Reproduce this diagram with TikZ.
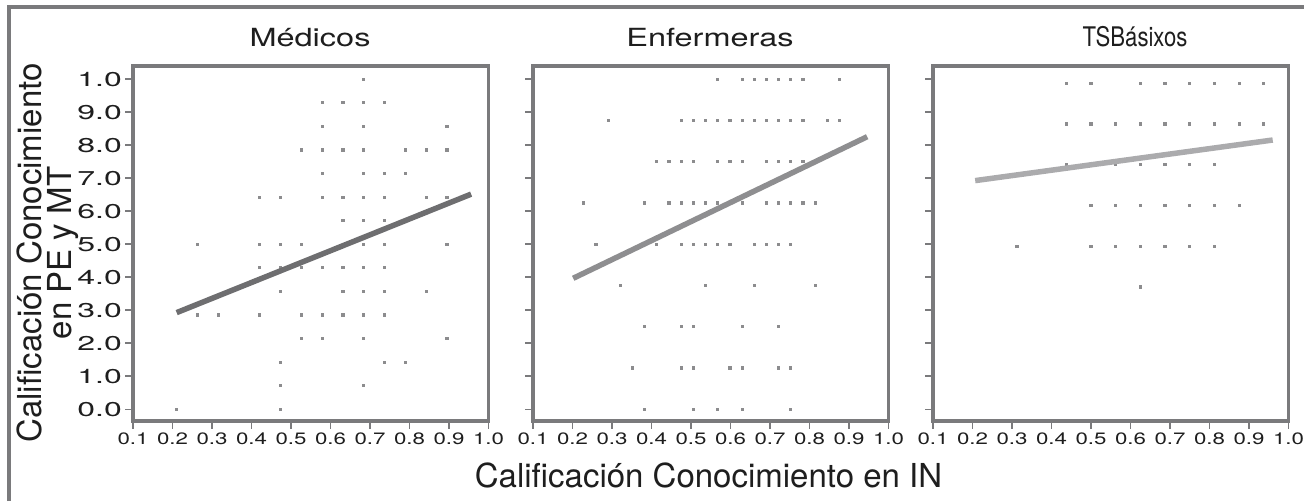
\documentclass[tikz,border=0pt]{standalone}
\usepackage{fontspec}
\setmainfont{TeX Gyre Heros}
\newfontfamily\titlefont{TeX Gyre Heros}[FakeStretch=1.3]
\newfontfamily\xtickfont{TeX Gyre Heros}[FakeStretch=1.35]
\newfontfamily\ytickfont{TeX Gyre Heros}[FakeStretch=1.6]
\definecolor{framegray}{HTML}{7A7A7C}
\definecolor{dotgray}{HTML}{8C8C8E}
\definecolor{fitA}{HTML}{6E6E70}
\definecolor{fitB}{HTML}{8E8E90}
\definecolor{fitC}{HTML}{ABABAD}
\definecolor{textgray}{HTML}{1E1E1E}
\tikzset{
    outer-frame/.style = {draw=framegray, line width=4.5pt},
    panel-frame/.style = {draw=framegray, line width=3.5pt},
    tick-mark/.style = {draw=framegray, line width=1.6pt},
    data-dot/.style = {fill=dotgray},
    fit-line/.style = {line width=5.5pt},
    panel-title/.style = {font=\titlefont\fontsize{25}{25}\selectfont, text=textgray, anchor=base, inner sep=0pt},
    xtick-label/.style = {font=\xtickfont\fontsize{16.5}{16.5}\selectfont, text=textgray, anchor=north, inner sep=0pt},
    ytick-label/.style = {font=\ytickfont\fontsize{20}{20}\selectfont, text=textgray, anchor=east, inner sep=0pt},
    axis-label/.style = {font=\fontsize{33}{30}\selectfont, text=textgray, inner sep=0pt, align=center},
}

\begin{document}
\begin{tikzpicture}[x=1pt, y=1pt]
\useasboundingbox (0,0) rectangle (1304,501);
% outer frame, only top and left edges show
\draw[outer-frame] (9,0) -- (9,494) -- (1304,494);

% panel titles
\node[panel-title] (medicos) at (310,454) {Médicos};
\node[panel-title] (enfermeras) at (710,454) {Enfermeras};
\node[panel-title, font=\fontsize{27}{27}\selectfont] (tsbasixos) at (1135,454) {\scalebox{0.82}[1]{TSBásixos}};

% axis labels
\node[axis-label, rotate=90] (ylabel) at (48,248) {Calificación Conocimiento\\en PE y MT};
\node[axis-label, anchor=base] (xlabel) at (708.5,14) {Calificación Conocimiento en IN};

% frames and ticks of the three panels
\foreach \p in {0,1,2} {
  \begin{scope}[shift={(93.5+400*\p,91.7)}, x=395pt, y=33pt]
    \draw[panel-frame] (0.1,-0.355) rectangle (1,10.4);
    \foreach \t/\lab in {1/0.1,2/0.2,3/0.3,4/0.4,5/0.5,6/0.6,7/0.7,8/0.8,9/0.9,10/1.0} {
      \draw[tick-mark] ({\t/10},-0.355) -- ++(0,-8pt);
      \node[xtick-label, yshift=-12pt] (xt\p\t) at ({\t/10},-0.355) {\lab};
    }
    \foreach \v in {0,...,10}
      \draw[tick-mark] (0.1,\v) -- ++(-8pt,0);
  \end{scope}
}

% Medicos
\begin{scope}[shift={(93.5,91.7)}, x=395pt, y=33pt]
  \foreach \v/\lab in {0/0.0,1/1.0,2/2.0,3/3.0,4/4.0,5/5.0,6/6.0,7/7.0,8/8.0,9/9.0,10/1.0}
    \node[ytick-label, xshift=-11pt] (yt\v) at (0.1,\v) {\lab};
  \foreach \k/\cols in {14/{13}, 13/{11,12,13,14}, 12/{11,13,17},
      11/{10,11,12,13,15,16,17}, 10/{11,13,14,15}, 9/{8,9,11,12,13,14,16,17},
      8/{12,13,14}, 7/{5,8,9,10,13,14,17}, 6/{8,9,10,11,12,13,14},
      5/{9,12,13,14,16}, 4/{5,6,8,10,11,12,13,14}, 3/{10,11,13,17},
      2/{9,14,15}, 1/{9,13}, 0/{4,9}}
    \foreach \j in \cols
      \fill[data-dot] ({\j/19},{\k*10/14}) ++(-1.6pt,-1.6pt) rectangle ++(3.2pt,3.2pt);
  \draw[fit-line, fitA] (0.2106,2.93) -- (0.956,6.52);
\end{scope}

% Enfermeras
\begin{scope}[shift={(493.5,91.7)}, x=395pt, y=33pt]
  \foreach \k/\cols in {8/{11,13,14,15,16,17,18,21},
      7/{2,8,9,10,11,12,13,14,15,16,17,18,20,21},
      6/{6,7,8,9,11,12,13,15,16,17,18},
      5/{0,5,7,8,9,10,11,13,15,16,17,18,19},
      4/{1,6,8,9,10,11,12,14,15,16,17}, 3/{3,10,14,19},
      2/{5,8,9,13,16}, 1/{4,8,9,12,13,16,17}, 0/{5,9,11,13,17}}
    \foreach \c in \cols
      \fill[data-dot] ({0.2287+0.03082*\c},{\k*1.25}) ++(-1.6pt,-1.6pt) rectangle ++(3.2pt,3.2pt);
  \draw[fit-line, fitB] (0.2018,3.97) -- (0.946,8.26);
\end{scope}

% TSBasixos
\begin{scope}[shift={(893.5,91.7)}, x=395pt, y=33pt]
  \foreach \k/\cols in {8/{7,8,10,11,12,13,14,15}, 7/{7,8,9,10,11,12,13,14,15},
      6/{7,9,10,11,12,13}, 5/{8,9,10,11,12,13,14}, 4/{5,8,9,10,11,12,13}, 3/{10}}
    \foreach \j in \cols
      \fill[data-dot] ({\j/16},{\k*1.235}) ++(-1.6pt,-1.6pt) rectangle ++(3.2pt,3.2pt);
  \draw[fit-line, fitC] (0.2068,6.93) -- (0.960,8.16);
\end{scope}
\end{tikzpicture}
\end{document}
